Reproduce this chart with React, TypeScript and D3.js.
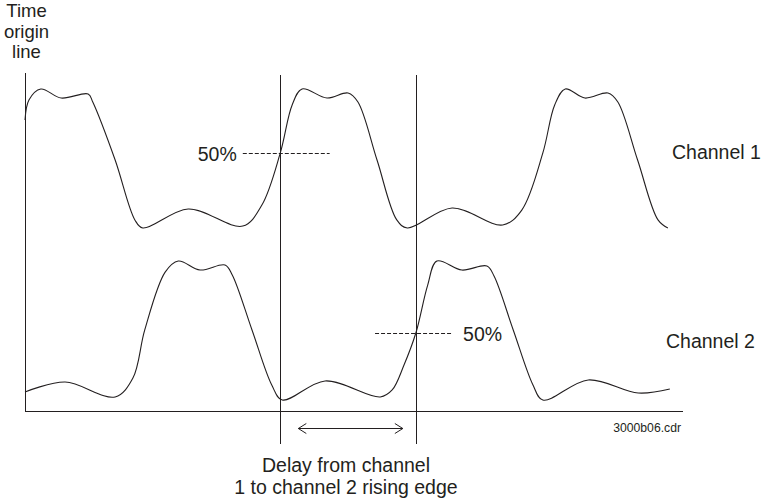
import React from "react";
import * as d3 from "d3";

// Waveform samples: time (arbitrary units, 0..100) and normalised level (0 = low, 1 = high)
const ch1Time = [0, 0.6, 2.4, 5.5, 9.6, 10.3, 13.7, 16.7, 17.9, 24.8, 33.1, 36.0, 38.8, 40.6, 42.1, 45.9, 49.1, 50.6, 53.5, 56.5, 58.1, 64.9, 72.6, 75.5, 78.7, 80.5, 82.1, 85.1, 88.6, 90.1, 93.1, 96.2, 97.7];
const ch1Level = [0.777, 0.921, 1.0, 0.935, 0.964, 0.906, 0.489, 0.058, 0.0, 0.137, 0.014, 0.165, 0.54, 0.885, 1.0, 0.935, 0.971, 0.906, 0.489, 0.058, 0.0, 0.144, 0.022, 0.129, 0.54, 0.885, 1.0, 0.935, 0.971, 0.906, 0.489, 0.058, 0.0];

const ch2Time = [0, 6.1, 13.7, 16.4, 18.2, 21.3, 23.3, 26.6, 30.4, 31.5, 34.5, 37.5, 39.1, 45.6, 54.0, 55.8, 57.6, 59.4, 61.2, 62.6, 66.4, 70.2, 71.3, 74.2, 77.2, 78.7, 85.6, 93.2, 98.0];
const ch2Level = [0.058, 0.129, 0.022, 0.158, 0.504, 0.92, 1.0, 0.935, 0.971, 0.9, 0.504, 0.108, 0.0, 0.137, 0.022, 0.072, 0.252, 0.482, 0.827, 1.0, 0.935, 0.964, 0.89, 0.504, 0.108, 0.0, 0.144, 0.05, 0.079];

const ch1Cross = 38.8; // 50% crossing of channel 1 rising edge
const ch2Cross = 59.4; // 50% crossing of channel 2 rising edge
const ch1Half = 0.54;
const ch2Half = 0.48;
const ch1Dash = [33.1, 46.3];
const ch2Dash = [53.2, 64.9];

const channelLabels = ["Channel 1", "Channel 2"];
const originLabel = ["Time", "origin", "line"];
const delayLabel = ["Delay from channel", "1 to channel 2 rising edge"];
const pctLabel = "50%";
const fileLabel = "3000b06.cdr";

const INK = "#231f20";
const FONT = "'Liberation Sans', Arial, Helvetica, sans-serif";

export default function App() {
  const x = d3.scaleLinear().domain([0, 100]).range([25, 683]);
  const y1 = d3.scaleLinear().domain([0, 1]).range([228, 89]);
  const y2 = d3.scaleLinear().domain([0, 1]).range([400, 261]);
  const px = (v: number) => Math.round(v) + 0.5;

  const line1 = d3
    .line<number>()
    .x((_, i) => x(ch1Time[i]))
    .y((d) => y1(d))
    .curve(d3.curveCatmullRom.alpha(0.5));
  const line2 = d3
    .line<number>()
    .x((_, i) => x(ch2Time[i]))
    .y((d) => y2(d))
    .curve(d3.curveCatmullRom.alpha(0.5));

  const axisTop = 73;
  const axisBottom = 411;
  const vTop = 75;
  const vBottom = 444;

  const arrowY = 428;
  const ax1 = x(ch1Cross) + 18;
  const ax2 = x(ch2Cross) - 13;
  const ah = 8;
  const aw = 5;

  return (
    <svg
      width={765}
      height={499}
      style={{ position: "absolute", left: 0, top: 0, background: "#fff" }}
      fontFamily={FONT}
    >
      <rect width={765} height={499} fill="#fff" />
      {/* axes */}
      <line x1={px(x(0))} x2={px(x(0))} y1={axisTop} y2={axisBottom} stroke={INK} strokeWidth={1} />
      <line x1={x(0)} x2={x(100)} y1={px(axisBottom)} y2={px(axisBottom)} stroke={INK} strokeWidth={1} />
      {/* crossing verticals */}
      <line x1={px(x(ch1Cross))} x2={px(x(ch1Cross))} y1={vTop} y2={vBottom} stroke={INK} strokeWidth={1} />
      <line x1={px(x(ch2Cross))} x2={px(x(ch2Cross))} y1={vTop} y2={vBottom} stroke={INK} strokeWidth={1} />
      {/* waveforms */}
      <path d={line1(ch1Level) || ""} fill="none" stroke={INK} strokeWidth={1.1} />
      <path d={line2(ch2Level) || ""} fill="none" stroke={INK} strokeWidth={1.1} />
      {/* 50% dashed markers */}
      <line x1={x(ch1Dash[0])} x2={x(ch1Dash[1])} y1={px(y1(ch1Half))} y2={px(y1(ch1Half))} stroke={INK} strokeWidth={1} strokeDasharray="4 2" />
      <line x1={x(ch2Dash[0])} x2={x(ch2Dash[1])} y1={px(y2(ch2Half))} y2={px(y2(ch2Half))} stroke={INK} strokeWidth={1} strokeDasharray="4 2" />
      <text x={x(ch1Dash[0]) - 6} y={y1(ch1Half) + 8} textAnchor="end" fontSize={19.5} fill={INK}>{pctLabel}</text>
      <text x={x(ch2Dash[1]) + 11} y={y2(ch2Half) + 8} textAnchor="start" fontSize={19.5} fill={INK}>{pctLabel}</text>
      {/* arrow */}
      <line x1={ax1} x2={ax2} y1={px(arrowY)} y2={px(arrowY)} stroke={INK} strokeWidth={1} />
      <polyline points={`${ax1 + ah},${arrowY - aw + 0.5} ${ax1},${arrowY + 0.5} ${ax1 + ah},${arrowY + aw + 0.5}`} fill="none" stroke={INK} strokeWidth={1} />
      <polyline points={`${ax2 - ah},${arrowY - aw + 0.5} ${ax2},${arrowY + 0.5} ${ax2 - ah},${arrowY + aw + 0.5}`} fill="none" stroke={INK} strokeWidth={1} />
      {/* labels */}
      {originLabel.map((t, i) => (
        <text key={t} x={26.5} y={17 + i * 20.5} textAnchor="middle" fontSize={18.5} fill={INK}>{t}</text>
      ))}
      <text x={672} y={159} fontSize={19.5} fill={INK}>{channelLabels[0]}</text>
      <text x={666} y={348} fontSize={19.5} fill={INK}>{channelLabels[1]}</text>
      <text x={681} y={432} textAnchor="end" fontSize={12.2} fill={INK}>{fileLabel}</text>
      {delayLabel.map((t, i) => (
        <text key={t} x={346} y={472 + i * 21.5} textAnchor="middle" fontSize={19.5} fill={INK}>{t}</text>
      ))}
    </svg>
  );
}
